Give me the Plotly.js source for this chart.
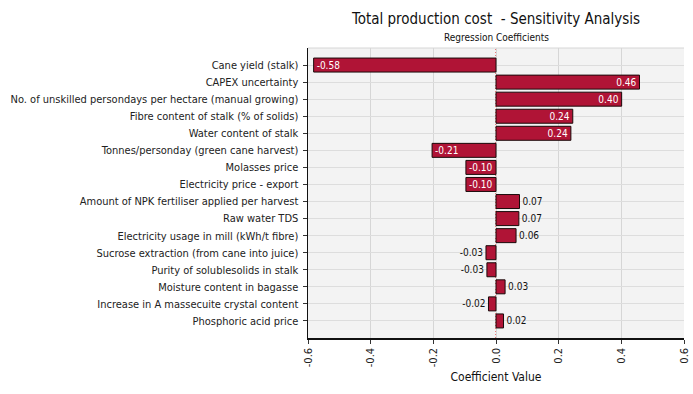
<!DOCTYPE html>
<html>
<head>
<meta charset="utf-8">
<script src="https://cdn.plot.ly/plotly-3.0.1.min.js"></script>
<style>html,body{margin:0;padding:0;background:#fff;}#chart{width:693px;height:394px;}</style>
</head>
<body>
<div id="chart"></div>
<script>
const categories = [
  "Cane yield (stalk)",
  "CAPEX uncertainty",
  "No. of unskilled persondays per hectare (manual growing)",
  "Fibre content of stalk (% of solids)",
  "Water content of stalk",
  "Tonnes/personday (green cane harvest)",
  "Molasses price",
  "Electricity price - export",
  "Amount of NPK fertiliser applied per harvest",
  "Raw water TDS",
  "Electricity usage in mill (kWh/t fibre)",
  "Sucrose extraction (from cane into juice)",
  "Purity of solublesolids in stalk",
  "Moisture content in bagasse",
  "Increase in A massecuite crystal content",
  "Phosphoric acid price"
];
const coefficients = [-0.582, 0.458, 0.401, 0.245, 0.239, -0.204, -0.096, -0.096, 0.075, 0.073, 0.064, -0.032, -0.029, 0.029, -0.024, 0.024];
const valueLabels = ["-0.58","0.46","0.40","0.24","0.24","-0.21","-0.10","-0.10","0.07","0.07","0.06","-0.03","-0.03","0.03","-0.02","0.02"];
const xTicks = [-0.6, -0.4, -0.2, 0.0, 0.2, 0.4, 0.6];
const xTickLabels = ["-0.6","-0.4","-0.2","0.0","0.2","0.4","0.6"];

const FONT = "Tahoma, 'DejaVu Sans Condensed', 'DejaVu Sans', sans-serif";

const textPos = coefficients.map(v => Math.abs(v) >= 0.09 ? 'inside' : 'outside');

const trace = {
  type: 'bar',
  orientation: 'h',
  y: categories,
  x: coefficients,
  width: 0.82,
  marker: {color: '#b01436', line: {color: '#1a0a0a', width: 1}},
  text: valueLabels,
  textposition: textPos,
  insidetextanchor: 'end',
  textangle: 0,
  constraintext: 'none',
  insidetextfont: {color: '#ffffff', size: 10, family: FONT},
  outsidetextfont: {color: '#111111', size: 10, family: FONT},
  cliponaxis: false,
  hoverinfo: 'x+y'
};

const layout = {
  width: 693, height: 394,
  margin: {l: 308, r: 9, t: 48, b: 56},
  paper_bgcolor: '#ffffff',
  plot_bgcolor: '#f3f3f3',
  showlegend: false,
  uniformtext: {mode: 'show', minsize: 10},
  font: {family: FONT, size: 11, color: '#111'},
  title: {
    text: "Total production cost  - Sensitivity Analysis",
    font: {size: 15, color: '#111', family: FONT},
    x: 0.5, xanchor: 'center', xref: 'paper',
    y: 0.952, yanchor: 'middle', yref: 'container'
  },
  annotations: [{
    text: "Regression Coefficients",
    xref: 'paper', yref: 'paper', x: 0.5, y: 1.0, yshift: 11,
    xanchor: 'center', yanchor: 'middle', showarrow: false,
    font: {size: 10, color: '#111', family: FONT}
  }],
  xaxis: {
    range: [-0.6, 0.6],
    tickvals: xTicks, ticktext: xTickLabels,
    tickangle: -90,
    ticks: 'outside', ticklen: 4, tickcolor: '#333',
    showline: true, linecolor: '#111', linewidth: 1.5,
    showgrid: true, gridcolor: '#d6d6d6', gridwidth: 1,
    zeroline: false,
    tickfont: {size: 11, color: '#222', family: FONT},
    title: {text: "Coefficient Value", font: {size: 12, color: '#111', family: FONT}, standoff: 6}
  },
  yaxis: {
    type: 'category',
    range: [16, -1],
    ticks: 'outside', ticklen: 4, tickcolor: '#333',
    showline: true, linecolor: '#111', linewidth: 1.5,
    showgrid: true, gridcolor: '#dddddd', gridwidth: 1,
    zeroline: false,
    tickfont: {size: 11, color: '#222', family: FONT},
    ticklabelstandoff: 2
  },
  shapes: [
    {type: 'line', xref: 'x', yref: 'paper', x0: 0, x1: 0, y0: 0, y1: 1,
     line: {color: '#f3f3f3', width: 2}, layer: 'between'},
    {type: 'line', xref: 'x', yref: 'paper', x0: 0, x1: 0, y0: 0, y1: 1,
     line: {color: '#e00000', width: 1, dash: '1px,2px'}, layer: 'between'},
    {type: 'line', xref: 'paper', yref: 'paper', x0: 0, x1: 1, y0: 1, y1: 1,
     line: {color: '#d6d6d6', width: 1}, layer: 'below'}
  ]
};

Plotly.newPlot('chart', [trace], layout, {displayModeBar: false, staticPlot: true});
</script>
</body>
</html>
